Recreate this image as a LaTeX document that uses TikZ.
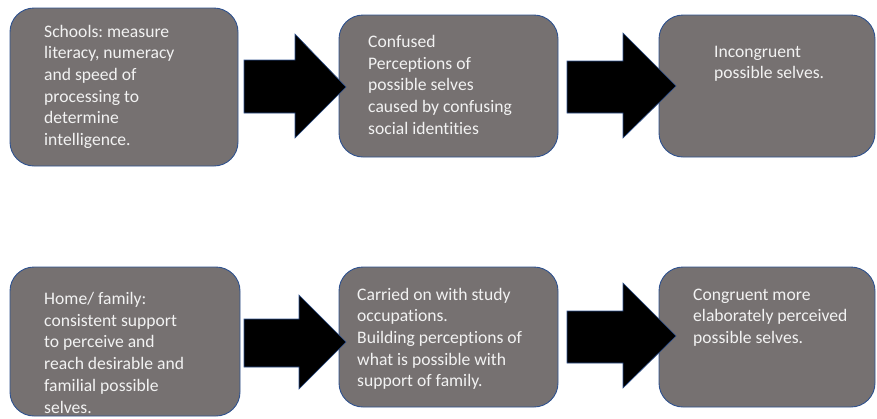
\documentclass[tikz,border=0pt]{standalone}
\usepackage{fontspec}
\setmainfont[Ligatures={NoCommon}]{Carlito}
\frenchspacing
\definecolor{boxfill}{HTML}{767171}
\definecolor{edge}{HTML}{2F528F}
\definecolor{txtcol}{HTML}{F2F2F2}
\begin{document}
\begin{tikzpicture}[x=1pt,y=-1pt,
  card/.style={draw=edge, line width=0.9pt, fill=boxfill, rounded corners=24pt, inner sep=0pt},
  txt/.style={anchor=base west, inner sep=0pt, align=left, text=txtcol, font=\fontsize{17.6}{21.7}\selectfont},
  blockarrow/.style={fill=black, draw=edge, line width=0.6pt}]
\useasboundingbox (0,0) rectangle (877,418);
% boxes
\node[card, minimum width=228pt, minimum height=158pt] (b1) at (124,87) {};
\node[card, minimum width=219pt, minimum height=142pt] (b2) at (448.5,86) {};
\node[card, minimum width=216pt, minimum height=142pt] (b3) at (767,86) {};
\node[card, minimum width=230pt, minimum height=149pt] (b4) at (125,341.5) {};
\node[card, minimum width=219pt, minimum height=140pt] (b5) at (448.5,337) {};
\node[card, minimum width=216pt, minimum height=140pt] (b6) at (767,337) {};
% texts (anchored at the baseline of the last line)
\node[txt] (t1) at (44,145.5) {Schools: measure\\literacy, numeracy\\and speed of\\processing to\\determine\\intelligence.};
\node[txt] (t2) at (368,134.3) {Confused\\Perceptions of\\possible selves\\caused by confusing\\social identities};
\node[txt] (t3) at (714,78.7) {Incongruent\\possible selves.};
\node[txt] (t4) at (44,413) {Home/ family:\\consistent support\\to perceive and\\reach desirable and\\familial possible\\selves.};
\node[txt] (t5) at (357,386.8) {Carried on with study\\occupations.\\Building perceptions of\\what is possible with\\support of family.};
\node[txt] (t6) at (693,343.4) {Congruent more\\elaborately perceived\\possible selves.};
% block arrows
\draw[blockarrow] (244,60) -- (295,60) -- (295,34) -- (346,87) -- (295,138) -- (295,113) -- (244,113) -- cycle;
\draw[blockarrow] (567,61) -- (623,61) -- (623,33) -- (676,86) -- (623,138) -- (623,113) -- (567,113) -- cycle;
\draw[blockarrow] (244,319) -- (299,319) -- (299,295) -- (346,342) -- (299,389) -- (299,367) -- (244,367) -- cycle;
\draw[blockarrow] (567,311) -- (623,311) -- (623,283) -- (676,336) -- (623,388) -- (623,363) -- (567,363) -- cycle;
\end{tikzpicture}
\end{document}
